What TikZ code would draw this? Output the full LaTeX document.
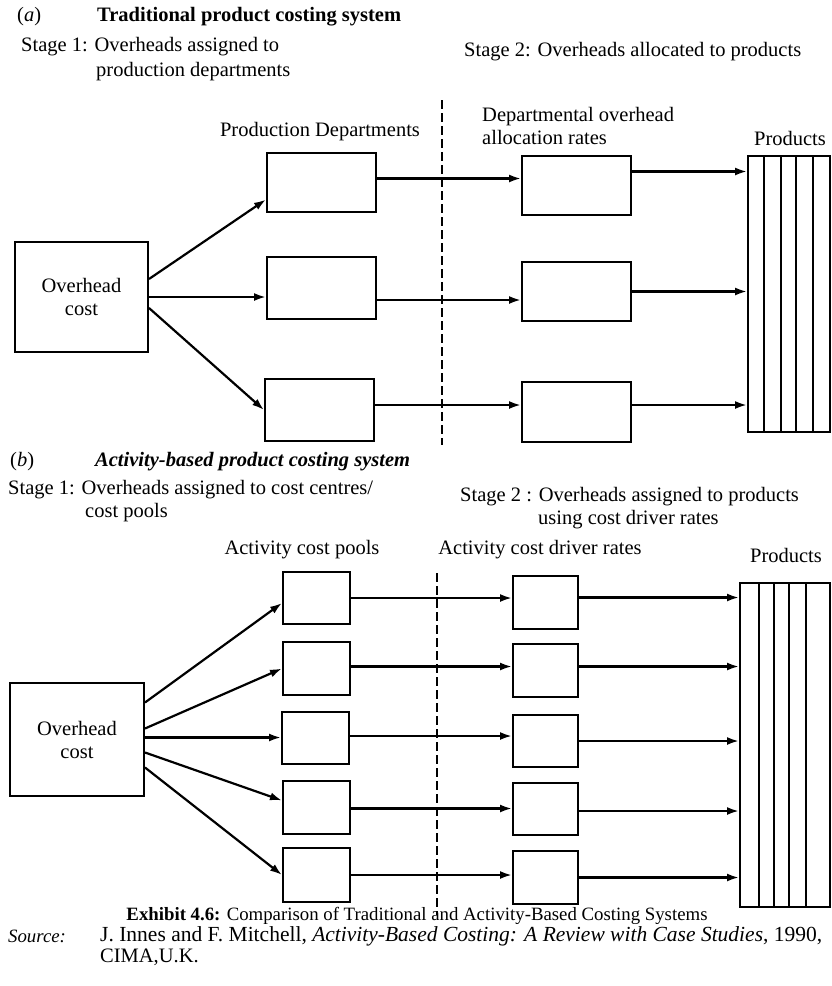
\documentclass[tikz,border=0pt]{standalone}
\usepackage{fontspec}
\setmainfont{Liberation Serif}
\usetikzlibrary{positioning,calc,arrows.meta}

\begin{document}
\begin{tikzpicture}[x=1pt,y=-1pt,
	box/.style={draw,line width=2pt,inner sep=0pt},
	flow/.style={-{Latex[length=12pt,width=8pt]},line width=2.2pt},
	split/.style={line width=#1,dash pattern=on 9pt off 4pt},
	lbl/.style={font=\fontsize{20.5}{23}\selectfont,inner sep=0pt},
	small/.style={font=\fontsize{18.8}{21}\selectfont,inner sep=0pt}]
	\useasboundingbox (0,0) rectangle (831,986);
	% (a) traditional system
	\node[lbl,anchor=west] (tagA) at (17,17) {(\textit{a})};
	\node[lbl,anchor=west] (headA) at (97,17) {\textbf{Traditional product costing system}};
	\node[lbl,anchor=west] (stA1) at (21,47) {Stage 1: Overheads assigned to};
	\node[lbl,anchor=west] (stA1b) at (96,72) {production departments};
	\node[lbl,anchor=west] (stA2) at (464,52) {Stage 2: Overheads allocated to products};
	\node[lbl] (pdTitle) at (320,132) {Production Departments};
	\node[lbl,anchor=west,align=left] (arTitle) at (482,126) {Departmental overhead\\allocation rates};
	\node[lbl] (prTitleA) at (790,138) {Products};
	\node[box,minimum width=133pt,minimum height=110pt,align=center,lbl] (ohA) at (81.5,297) {Overhead\\cost};
	\node[box,minimum width=109pt,minimum height=59pt] (pdA1) at (321.5,182.5) {};
	\node[box,minimum width=109pt,minimum height=62pt] (pdA2) at (321.5,288) {};
	\node[box,minimum width=109pt,minimum height=62pt] (pdA3) at (319.5,410) {};
	\node[box,minimum width=109pt,minimum height=59pt] (arA1) at (576.5,185.5) {};
	\node[box,minimum width=109pt,minimum height=59pt] (arA2) at (576.5,291.5) {};
	\node[box,minimum width=109pt,minimum height=60pt] (arA3) at (576.5,412) {};
	\node[box,minimum width=82pt,minimum height=276pt] (prA) at (789,294) {};
	\foreach \s in {17,34,49,66}
		\draw[line width=1.8pt] ([xshift=\s pt]prA.north west) -- ([xshift=\s pt]prA.south west);
	\coordinate (dA1) at (442,100);
	\coordinate (dA2) at (442,445);
	\draw[split=2.6pt] (dA1) -- (dA2);
	\draw[flow] ([yshift=18pt]ohA.east) -- ([yshift=-17pt]pdA1.west);
	\draw[flow] (ohA.east) -- (ohA.east -| pdA2.west);
	\draw[flow] ([yshift=-11pt]ohA.east) -- (pdA3.west);
	\draw[flow] ([yshift=4pt]pdA1.east) -- ([yshift=4pt]pdA1.east -| arA1.west);
	\draw[flow] ([yshift=-12pt]pdA2.east) -- ([yshift=-12pt]pdA2.east -| arA2.west);
	\draw[flow] ([yshift=5pt]pdA3.east) -- ([yshift=5pt]pdA3.east -| arA3.west);
	\draw[flow] ([yshift=14pt]arA1.east) -- ([yshift=14pt]arA1.east -| prA.west);
	\draw[flow] (arA2.east) -- (arA2.east -| prA.west);
	\draw[flow] ([yshift=7pt]arA3.east) -- ([yshift=7pt]arA3.east -| prA.west);
	% (b) activity-based system
	\node[lbl,anchor=west] (tagB) at (10,462) {(\textit{b})};
	\node[lbl,anchor=west] (headB) at (95,462) {\textbf{\textit{Activity-based product costing system}}};
	\node[lbl,anchor=west] (stB1) at (8,490) {Stage 1: Overheads assigned to cost centres/};
	\node[lbl,anchor=west] (stB1b) at (85,513) {cost pools};
	\node[lbl,anchor=west] (stB2) at (460,497) {Stage 2 : Overheads assigned to products};
	\node[lbl,anchor=west] (stB2b) at (538,520) {using cost driver rates};
	\node[lbl] (poTitle) at (302,550) {Activity cost pools};
	\node[lbl] (drTitle) at (540,550) {Activity cost driver rates};
	\node[lbl] (prTitleB) at (786,555) {Products};
	\node[box,minimum width=134pt,minimum height=113pt,align=center,lbl] (ohB) at (77,739.5) {Overhead\\cost};
	\node[box,minimum width=67pt,minimum height=52pt] (poB1) at (316.5,598) {};
	\node[box,minimum width=67pt,minimum height=53pt] (poB2) at (316.5,668.5) {};
	\node[box,minimum width=67pt,minimum height=52pt] (poB3) at (315.5,738) {};
	\node[box,minimum width=67pt,minimum height=53pt] (poB4) at (316.5,807.5) {};
	\node[box,minimum width=67pt,minimum height=54pt] (poB5) at (316.5,875) {};
	\node[box,minimum width=65pt,minimum height=53pt] (drB1) at (545.5,602.5) {};
	\node[box,minimum width=65pt,minimum height=53pt] (drB2) at (545.5,670.5) {};
	\node[box,minimum width=65pt,minimum height=52pt] (drB3) at (545.5,741) {};
	\node[box,minimum width=65pt,minimum height=52pt] (drB4) at (545.5,809) {};
	\node[box,minimum width=65pt,minimum height=53pt] (drB5) at (545.5,877.5) {};
	\node[box,minimum width=90pt,minimum height=324pt] (prB) at (785,745) {};
	\foreach \s in {20,35,50,67}
		\draw[line width=1.8pt] ([xshift=\s pt]prB.north west) -- ([xshift=\s pt]prB.south west);
	\coordinate (dB1) at (437,573);
	\coordinate (dB2) at (437,915);
	\draw[split=1.6pt] (dB1) -- (dB2);
	\draw[flow] ([yshift=37pt]ohB.east) -- ([yshift=-5pt]poB1.west);
	\draw[flow] ([yshift=11pt]ohB.east) -- (poB2.west);
	\draw[flow] ([yshift=2pt]ohB.east) -- ([yshift=2pt]ohB.east -| poB3.west);
	\draw[flow] ([yshift=-13pt]ohB.east) -- ([yshift=7pt]poB4.west);
	\draw[flow] ([yshift=-28pt]ohB.east) -- (poB5.west);
	\draw[flow] (poB1.east) -- (poB1.east -| drB1.west);
	\draw[flow] ([yshift=2pt]poB2.east) -- ([yshift=2pt]poB2.east -| drB2.west);
	\draw[flow] ([yshift=2pt]poB3.east) -- ([yshift=2pt]poB3.east -| drB3.west);
	\draw[flow] ([yshift=-1pt]poB4.east) -- ([yshift=-1pt]poB4.east -| drB4.west);
	\draw[flow] (poB5.east) -- (poB5.east -| drB5.west);
	\draw[flow] ([yshift=5pt]drB1.east) -- ([yshift=5pt]drB1.east -| prB.west);
	\draw[flow] ([yshift=4pt]drB2.east) -- ([yshift=4pt]drB2.east -| prB.west);
	\draw[flow] (drB3.east) -- (drB3.east -| prB.west);
	\draw[flow] ([yshift=-2pt]drB4.east) -- ([yshift=-2pt]drB4.east -| prB.west);
	\draw[flow] (drB5.east) -- (drB5.east -| prB.west);
	% caption and source
	\node[small] (caption) at (417,916) {\textbf{Exhibit 4.6:} Comparison of Traditional and Activity-Based Costing Systems};
	\node[small,anchor=west] (srcTag) at (8,936) {\textit{Source:}};
	\node[lbl,font=\fontsize{21.5}{23}\selectfont,anchor=west] (srcText) at (100,936) {J. Innes and F. Mitchell, \textit{Activity-Based Costing: A Review with Case Studies}, 1990,};
	\node[lbl,anchor=west] (srcText2) at (100,957) {CIMA,U.K.};
\end{tikzpicture}
\end{document}
